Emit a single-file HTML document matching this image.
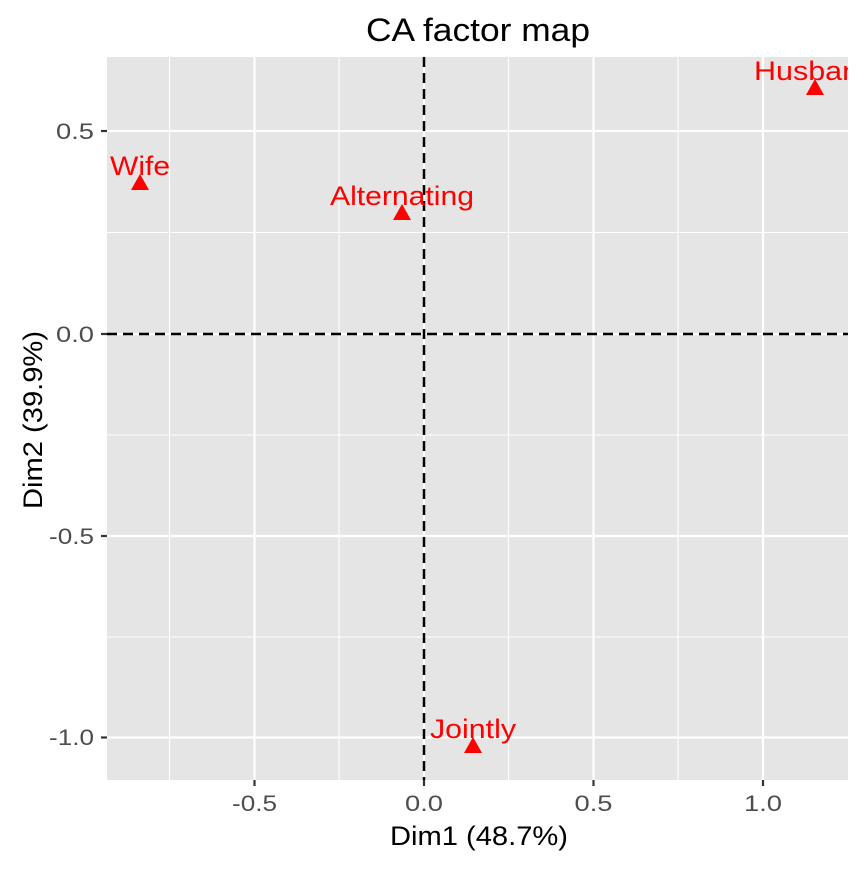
<!DOCTYPE html>
<html><head><style>body{margin:0;background:#fff}</style></head><body>
<svg width="864" height="864" xmlns="http://www.w3.org/2000/svg" font-family="Liberation Sans, Arial, sans-serif">
<defs><clipPath id="c"><rect x="107" y="57" width="741" height="723"/></clipPath></defs>
<rect x="107" y="57" width="741" height="723" fill="#e5e5e5"/>
<g stroke="#fff" stroke-width="1.1">
<line x1="169.5" y1="57" x2="169.5" y2="780"/><line x1="339" y1="57" x2="339" y2="780"/>
<line x1="508.5" y1="57" x2="508.5" y2="780"/><line x1="678" y1="57" x2="678" y2="780"/>
<line x1="107" y1="232.5" x2="848" y2="232.5"/><line x1="107" y1="435" x2="848" y2="435"/>
<line x1="107" y1="637" x2="848" y2="637"/>
</g>
<g stroke="#fff" stroke-width="2.2">
<line x1="254.5" y1="57" x2="254.5" y2="780"/><line x1="424" y1="57" x2="424" y2="780"/>
<line x1="593.5" y1="57" x2="593.5" y2="780"/><line x1="763" y1="57" x2="763" y2="780"/>
<line x1="107" y1="131" x2="848" y2="131"/><line x1="107" y1="334" x2="848" y2="334"/>
<line x1="107" y1="536" x2="848" y2="536"/><line x1="107" y1="737.5" x2="848" y2="737.5"/>
</g>
<g stroke="#000" stroke-width="2.5" stroke-dasharray="10,6">
<line x1="424" y1="57" x2="424" y2="780"/><line x1="107" y1="334" x2="848" y2="334"/>
</g>
<g clip-path="url(#c)" fill="#ff0000" font-size="27" text-anchor="middle">
<polygon points="140,174 131,190 149,190"/><text x="140" y="175" textLength="60" lengthAdjust="spacingAndGlyphs">Wife</text>
<polygon points="402,204 393,220 411,220"/><text x="402" y="205" textLength="144" lengthAdjust="spacingAndGlyphs">Alternating</text>
<polygon points="815,79 806,95 824,95"/><text x="815" y="80" textLength="122" lengthAdjust="spacingAndGlyphs">Husband</text>
<polygon points="473,737 464,753 482,753"/><text x="473" y="738" textLength="86" lengthAdjust="spacingAndGlyphs">Jointly</text>
</g>
<g stroke="#333" stroke-width="2.2">
<line x1="101" y1="131" x2="107" y2="131"/><line x1="101" y1="334" x2="107" y2="334"/>
<line x1="101" y1="536" x2="107" y2="536"/><line x1="101" y1="737.5" x2="107" y2="737.5"/>
<line x1="254.5" y1="780" x2="254.5" y2="786"/><line x1="424" y1="780" x2="424" y2="786"/>
<line x1="593.5" y1="780" x2="593.5" y2="786"/><line x1="763" y1="780" x2="763" y2="786"/>
</g>
<g fill="#4d4d4d" font-size="22" text-anchor="end">
<text x="94" y="139" textLength="38" lengthAdjust="spacingAndGlyphs">0.5</text><text x="94" y="342" textLength="38" lengthAdjust="spacingAndGlyphs">0.0</text>
<text x="94" y="544" textLength="45" lengthAdjust="spacingAndGlyphs">-0.5</text><text x="94" y="745" textLength="45" lengthAdjust="spacingAndGlyphs">-1.0</text>
</g>
<g fill="#4d4d4d" font-size="22" text-anchor="middle">
<text x="254.5" y="811" textLength="45" lengthAdjust="spacingAndGlyphs">-0.5</text><text x="424" y="811" textLength="38" lengthAdjust="spacingAndGlyphs">0.0</text>
<text x="593.5" y="811" textLength="38" lengthAdjust="spacingAndGlyphs">0.5</text><text x="763" y="811" textLength="38" lengthAdjust="spacingAndGlyphs">1.0</text>
</g>
<text x="479" y="845" font-size="27" text-anchor="middle" textLength="178" lengthAdjust="spacingAndGlyphs">Dim1 (48.7%)</text>
<text transform="translate(42,420) rotate(-90)" font-size="27" text-anchor="middle" textLength="178" lengthAdjust="spacingAndGlyphs">Dim2 (39.9%)</text>
<text x="478" y="41" font-size="32" text-anchor="middle" textLength="224" lengthAdjust="spacingAndGlyphs">CA factor map</text>
</svg>
</body></html>
